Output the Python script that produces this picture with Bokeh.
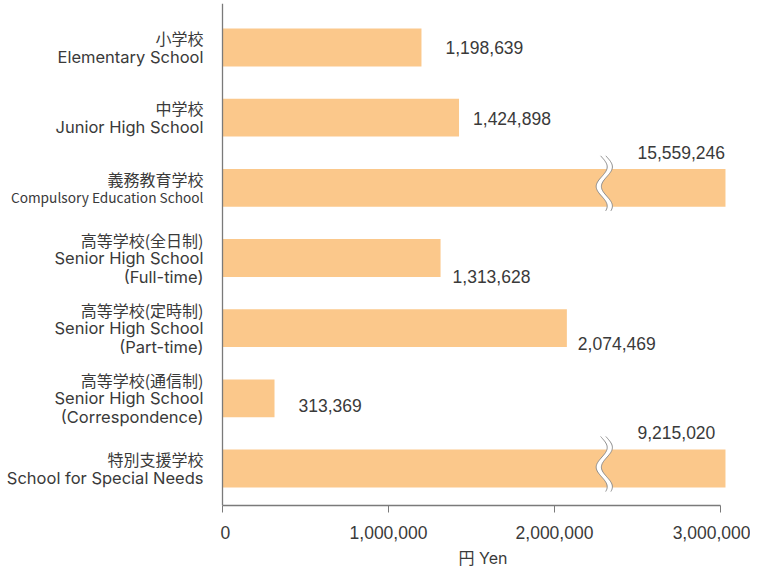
from bokeh.plotting import figure
from bokeh.layouts import row
from bokeh.models import Range1d, FixedTicker, Span
from bokeh.core.properties import value
from bokeh.embed import file_html
from bokeh.resources import INLINE
import numpy as np

# ---------------- data ----------------
categories_ja = ["小学校", "中学校", "義務教育学校", "高等学校(全日制)",
                 "高等学校(定時制)", "高等学校(通信制)", "特別支援学校"]
categories_en = ["Elementary School", "Junior High School", "Compulsory Education School",
                 "Senior High School\n(Full-time)", "Senior High School\n(Part-time)",
                 "Senior High School\n(Correspondence)", "School for Special Needs"]
values = [1198639, 1424898, 15559246, 1313628, 2074469, 313369, 9215020]
x_ticks = [0, 1000000, 2000000, 3000000]
x_tick_labels = ["0", "1,000,000", "2,000,000", "3,000,000"]
axis_title = "円 Yen"

# ---------------- styling / layout ----------------
PX_PER_UNIT_X = 166e-6    # pixels per yen
BAR_CAP = 3030000         # bars longer than this are drawn broken up to here
BREAK_AT = 2300000        # where the break mark sits on broken bars
W, H = 750, 571
LEFT_W = 220              # width of the category-label panel
MT, MB = 3, 66
FH = H - MT - MB
AX_PAD = 2                # pixels between main frame edge and the zero line
MAIN_W = W - LEFT_W
MR = 5
FW = MAIN_W - MR
X_START = -AX_PAD / PX_PER_UNIT_X
X_END = X_START + FW / PX_PER_UNIT_X
Y_TOP = -0.627
PX_Y = 70.17
Y_BOT = Y_TOP + FH / PX_Y

BAR_COLOR = "#FBC88B"
TEXT_COLOR = "#3a3a3a"
AXIS_COLOR = "#7a7a7a"
FONT_JA = "Noto Sans CJK JP"
FONT_EN = "Inter"
FONT_NUM = "Liberation Sans"
FONT_MIX = "Inter, 'Noto Sans CJK JP'"

# value label offsets in pixels relative to the (visible) bar end / bar centre
label_dx = [24, 14, -88, 12, 11, 24, -88]
label_dy = [0, 1, -35, 18, 15, 7, -36]
en_font = [FONT_EN, FONT_EN, FONT_JA, FONT_EN, FONT_EN, FONT_EN, FONT_EN]
en_font_size = ["16.5px", "16.5px", "13.7px", "16.5px", "16.5px", "16.5px", "16.5px"]

y_range = Range1d(Y_BOT, Y_TOP)

# ---------- main chart ----------
p = figure(width=MAIN_W, height=H, x_range=Range1d(X_START, X_END), y_range=y_range,
           output_backend="svg", toolbar_location=None,
           min_border_left=0, min_border_right=MR, min_border_top=MT, min_border_bottom=MB)
p.outline_line_color = None
p.grid.visible = False
p.yaxis.visible = False

ys = list(range(len(values)))
shown = [min(v, BAR_CAP) for v in values]
p.hbar(y=ys, left=0, right=shown, height=0.54, fill_color=BAR_COLOR, line_color=None)

# break marks
t = np.linspace(0, 1, 60)
for yc, v in zip(ys, values):
    if v > BAR_CAP:
        yy = yc + (-32 + 55 * t) / PX_Y
        xc = BREAK_AT + 5.5 * np.sin(8.8 * t - 0.19) / PX_PER_UNIT_X
        left = xc - 2.6 / PX_PER_UNIT_X
        right = xc + 2.6 / PX_PER_UNIT_X
        p.patch(np.concatenate([left, right[::-1]]), np.concatenate([yy, yy[::-1]]),
                fill_color="white", line_color=None)
        p.line(left, yy, line_color="#8a8a8a", line_width=1)
        p.line(right, yy, line_color="#8a8a8a", line_width=1)

# value labels
p.text(x=shown, y=[yc + dy / PX_Y for yc, dy in zip(ys, label_dy)],
       text=[f"{v:,}" for v in values], x_offset=label_dx,
       text_align="left", text_baseline="middle",
       text_font=value(FONT_NUM), text_font_size="17.5px", text_color=TEXT_COLOR)

# vertical zero axis line
p.add_layout(Span(location=0, dimension="height", line_color=AXIS_COLOR, line_width=1.3))

xa = p.xaxis[0]
xa.ticker = FixedTicker(ticks=x_ticks)
xa.major_label_overrides = {tk: lb for tk, lb in zip(x_ticks, x_tick_labels)}
xa.bounds = (x_ticks[0], x_ticks[-1])
xa.axis_line_color = AXIS_COLOR
xa.axis_line_width = 1.3
xa.major_tick_line_color = AXIS_COLOR
xa.major_tick_out = 7
xa.major_tick_in = 0
xa.minor_tick_line_color = None
xa.major_label_standoff = 13
xa.major_label_text_font = FONT_NUM
xa.major_label_text_font_size = "17.5px"
xa.major_label_text_color = TEXT_COLOR
xa.axis_label = axis_title
xa.axis_label_text_font = FONT_MIX
xa.axis_label_text_font_size = "16px"
xa.axis_label_text_font_style = "normal"
xa.axis_label_text_color = TEXT_COLOR
xa.axis_label_standoff = 6

# ---------- category label panel ----------
q = figure(width=LEFT_W, height=H, x_range=Range1d(0, LEFT_W), y_range=y_range,
           output_backend="svg", toolbar_location=None,
           min_border_left=0, min_border_right=0, min_border_top=MT, min_border_bottom=MB)
q.outline_line_color = None
q.grid.visible = False
q.axis.visible = False

LINE_H = 18.5
for font in (FONT_JA, FONT_EN):
    lx, ly, lt, ls = [], [], [], []
    for yc, ja, en, ef, fs in zip(ys, categories_ja, categories_en, en_font, en_font_size):
        lines = [(ja, FONT_JA, "16px")] + [(e, ef, fs) for e in en.split("\n")]
        n = len(lines)
        for i, (txt, f, size) in enumerate(lines):
            if f != font:
                continue
            off = (i - (n - 1) / 2) * LINE_H
            lx.append(LEFT_W - 17)
            ly.append(yc + off / PX_Y)
            lt.append(txt)
            ls.append(size)
    q.text(x=lx, y=ly, text=lt, text_font_size=ls, text_align="right", text_baseline="middle",
           text_font=value(font), text_color=TEXT_COLOR)

layout = row(q, p, spacing=0)
open("out.html", "w").write(file_html(layout, INLINE))
